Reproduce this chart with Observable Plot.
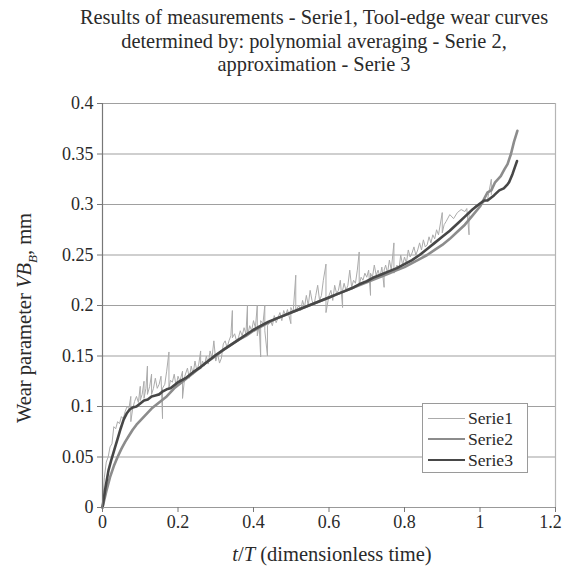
<!DOCTYPE html>
<html><head><meta charset="utf-8">
<script src="https://cdn.jsdelivr.net/npm/d3@7"></script>
<script src="https://cdn.jsdelivr.net/npm/@observablehq/plot@0.6"></script>
<style>
body{margin:0;background:#fff;}
#wrap{position:relative;width:564px;height:568px;overflow:hidden;font-family:"Liberation Serif","DejaVu Serif",serif;color:#2a2a2a}
.tl{position:absolute;left:0;width:628px;text-align:center;font-size:20.4px;line-height:24px;white-space:nowrap}
#ylab{position:absolute;left:27px;top:318px;transform:translate(-50%,-50%) rotate(-90deg);font-size:20.5px;white-space:nowrap}
#xlab{position:absolute;left:332px;top:554px;transform:translate(-50%,-50%);font-size:20.5px;white-space:nowrap}
#legend{position:absolute;left:422px;top:403px;width:106px;height:70px;border:1px solid #9a9a9a;background:#fff;box-sizing:border-box}
.lr{position:absolute;left:5px;height:20px;display:flex;align-items:center;font-size:17.6px}
.lr span.sw{display:inline-block;width:37px;margin-right:3px}
#plot{position:absolute;left:0;top:0}
</style></head><body><div id="wrap"><div id="plot"></div></div>
<script>
const titleLines = ["Results of measurements - Serie1, Tool-edge wear curves","determined by: polynomial averaging - Serie 2,","approximation - Serie 3"];
const seriesNames = ["Serie1","Serie2","Serie3"];
const xTicks = [0,0.2,0.4,0.6,0.8,1,1.2];
const xTickLabels = ["0","0.2","0.4","0.6","0.8","1","1.2"];
const yTicks = [0,0.05,0.1,0.15,0.2,0.25,0.3,0.35,0.4];
const yTickLabels = ["0","0.05","0.1","0.15","0.2","0.25","0.3","0.35","0.4"];

// Serie1: measured values (t/T, VB_B)
const serie1T = [0,0.005,0.01,0.015,0.02,0.025,0.03,0.035,0.04,0.045,0.05,0.055,0.06,0.065,0.07,0.075,0.075,0.08,0.085,0.09,0.095,0.1,0.1,0.105,0.11,0.11,0.115,0.119,0.119,0.125,0.13,0.13,0.135,0.14,0.145,0.15,0.155,0.159,0.159,0.165,0.17,0.176,0.176,0.18,0.185,0.19,0.195,0.2,0.205,0.212,0.212,0.218,0.225,0.23,0.235,0.24,0.245,0.25,0.255,0.26,0.26,0.265,0.27,0.275,0.28,0.285,0.29,0.295,0.3,0.305,0.31,0.315,0.32,0.325,0.33,0.335,0.34,0.344,0.344,0.35,0.355,0.36,0.365,0.37,0.375,0.38,0.384,0.384,0.39,0.395,0.4,0.405,0.41,0.41,0.415,0.419,0.419,0.425,0.43,0.43,0.437,0.437,0.445,0.45,0.455,0.46,0.465,0.47,0.475,0.48,0.485,0.49,0.499,0.499,0.505,0.512,0.512,0.52,0.525,0.53,0.535,0.54,0.545,0.55,0.555,0.56,0.565,0.57,0.575,0.58,0.585,0.592,0.592,0.6,0.605,0.61,0.615,0.62,0.625,0.63,0.636,0.636,0.64,0.645,0.65,0.655,0.66,0.665,0.67,0.675,0.68,0.68,0.685,0.69,0.695,0.7,0.705,0.71,0.71,0.715,0.72,0.725,0.73,0.735,0.74,0.746,0.746,0.75,0.755,0.76,0.765,0.772,0.772,0.78,0.785,0.79,0.795,0.8,0.805,0.81,0.815,0.82,0.825,0.83,0.835,0.84,0.845,0.85,0.855,0.86,0.865,0.87,0.875,0.88,0.885,0.89,0.9,0.9,0.905,0.91,0.92,0.93,0.94,0.95,0.96,0.965,0.971,0.971,0.98,0.99,1.0,1.01,1.02,1.03,1.03];
const serie1V = [0,0.03,0.045,0.05,0.06,0.063,0.08,0.078,0.085,0.083,0.09,0.088,0.095,0.1,0.098,0.11,0.085,0.098,0.105,0.11,0.104,0.12,0.106,0.112,0.125,0.108,0.118,0.14,0.112,0.12,0.132,0.112,0.118,0.128,0.118,0.122,0.13,0.088,0.118,0.122,0.135,0.154,0.118,0.126,0.124,0.132,0.12,0.13,0.125,0.135,0.108,0.13,0.138,0.128,0.14,0.132,0.145,0.135,0.142,0.155,0.137,0.145,0.14,0.15,0.142,0.155,0.148,0.165,0.145,0.152,0.143,0.148,0.162,0.165,0.158,0.165,0.17,0.195,0.168,0.172,0.165,0.168,0.175,0.17,0.178,0.172,0.2,0.17,0.18,0.175,0.185,0.178,0.2,0.17,0.18,0.149,0.185,0.182,0.2,0.175,0.15,0.18,0.185,0.18,0.19,0.183,0.188,0.193,0.185,0.195,0.19,0.196,0.182,0.198,0.193,0.23,0.195,0.2,0.195,0.205,0.198,0.21,0.2,0.215,0.205,0.2,0.21,0.22,0.205,0.21,0.225,0.241,0.193,0.21,0.215,0.205,0.22,0.212,0.215,0.225,0.198,0.215,0.222,0.215,0.22,0.235,0.218,0.225,0.222,0.235,0.253,0.22,0.228,0.225,0.232,0.228,0.235,0.21,0.232,0.228,0.24,0.23,0.235,0.228,0.238,0.218,0.235,0.24,0.232,0.245,0.235,0.262,0.232,0.24,0.235,0.25,0.24,0.248,0.242,0.255,0.248,0.252,0.258,0.25,0.255,0.262,0.255,0.265,0.258,0.26,0.268,0.262,0.27,0.266,0.275,0.27,0.292,0.272,0.28,0.283,0.29,0.286,0.292,0.295,0.293,0.296,0.27,0.29,0.295,0.3,0.298,0.302,0.305,0.325,0.31];

// Serie2: polynomial averaging
const serie2T = [0,0.01,0.02,0.03,0.04,0.05,0.06,0.07,0.08,0.09,0.1,0.11,0.12,0.13,0.14,0.15,0.16,0.17,0.18,0.19,0.2,0.22,0.24,0.26,0.28,0.3,0.32,0.34,0.36,0.38,0.4,0.42,0.44,0.46,0.48,0.5,0.52,0.54,0.56,0.58,0.6,0.62,0.64,0.66,0.68,0.7,0.72,0.74,0.76,0.78,0.8,0.82,0.84,0.86,0.88,0.9,0.92,0.94,0.96,0.98,1.0,1.02,1.03,1.04,1.055,1.065,1.073,1.082,1.09,1.099];
const serie2V = [0,0.016,0.03,0.041,0.05,0.058,0.065,0.071,0.077,0.082,0.086,0.09,0.094,0.098,0.101,0.104,0.107,0.11,0.114,0.118,0.121,0.127,0.133,0.139,0.145,0.15,0.156,0.161,0.166,0.17,0.175,0.179,0.183,0.187,0.19,0.193,0.196,0.199,0.202,0.205,0.208,0.211,0.214,0.217,0.22,0.223,0.226,0.229,0.232,0.235,0.238,0.242,0.246,0.25,0.255,0.26,0.266,0.273,0.28,0.289,0.298,0.312,0.314,0.322,0.328,0.335,0.34,0.35,0.362,0.373];

// Serie3: approximation
const serie3T = [0,0.008,0.016,0.024,0.032,0.04,0.048,0.056,0.064,0.072,0.08,0.09,0.1,0.11,0.12,0.13,0.14,0.15,0.16,0.17,0.18,0.19,0.2,0.22,0.24,0.26,0.28,0.3,0.32,0.34,0.36,0.38,0.4,0.42,0.44,0.46,0.48,0.5,0.52,0.54,0.56,0.58,0.6,0.62,0.64,0.66,0.68,0.7,0.72,0.74,0.76,0.78,0.8,0.82,0.84,0.86,0.88,0.9,0.92,0.94,0.96,0.98,1.0,1.011,1.02,1.037,1.051,1.063,1.073,1.077,1.086,1.098];
const serie3V = [0,0.02,0.037,0.048,0.058,0.068,0.078,0.087,0.093,0.097,0.099,0.1,0.103,0.106,0.107,0.11,0.111,0.112,0.115,0.117,0.118,0.121,0.124,0.128,0.134,0.139,0.145,0.151,0.156,0.161,0.166,0.171,0.176,0.18,0.184,0.187,0.19,0.193,0.196,0.199,0.202,0.205,0.208,0.211,0.214,0.217,0.221,0.224,0.228,0.231,0.234,0.237,0.241,0.245,0.25,0.256,0.262,0.268,0.274,0.281,0.288,0.295,0.301,0.304,0.304,0.309,0.314,0.316,0.32,0.322,0.33,0.343];

const seriesStyle = [
  {stroke:"#ababab", strokeWidth:1},
  {stroke:"#8c8c8c", strokeWidth:2.6},
  {stroke:"#474747", strokeWidth:2.6}
];
const toRows = (T,V) => T.map((t,i)=>({t, v:V[i]}));
const rows = [toRows(serie1T,serie1V), toRows(serie2T,serie2V), toRows(serie3T,serie3V)];
const lastX = xTicks.length - 1;

const chart = Plot.plot({
  width:564, height:568,
  marginTop:103, marginBottom:61, marginLeft:102, marginRight:9,
  x:{domain:[0,1.2]},
  y:{domain:[0,0.4]},
  style:{fontFamily:"'Liberation Serif','DejaVu Serif',serif", fontSize:"18px", color:"#2a2a2a", background:"#fff"},
  marks:[
    Plot.ruleY(yTicks.slice(1), {stroke:"#a0a0a0", strokeWidth:1.2}),
    Plot.ruleX([1.2], {stroke:"#b5b5b5", strokeWidth:1.2}),
    ...rows.map((r,i)=>Plot.line(r, {x:"t", y:"v", ...seriesStyle[i], strokeLinejoin:"round", strokeLinecap:"round"})),
    Plot.ruleX([0], {stroke:"#777", strokeWidth:1.2}),
    Plot.ruleY([0], {stroke:"#999", strokeWidth:1.2}),
    Plot.axisY({ticks:yTicks, tickFormat:(d,i)=>yTickLabels[i], tickSize:5, tickPadding:4, stroke:"#777", fill:"#2a2a2a", label:null}),
    Plot.axisX({ticks:xTicks, tickFormat:(d,i)=>i===lastX?"":xTickLabels[i], tickSize:5, tickPadding:3, stroke:"#777", fill:"#2a2a2a", label:null}),
    Plot.text([xTicks[lastX]], {x:d=>d, text:()=>xTickLabels[lastX], frameAnchor:"bottom", lineAnchor:"top", dy:8, dx:-5, fill:"#2a2a2a"})
  ]
});
const wrap = document.getElementById("wrap");
document.getElementById("plot").appendChild(chart);

const titleTops = [5,29,52];
titleLines.forEach((s,i)=>{
  const d=document.createElement("div"); d.className="tl"; d.style.top=titleTops[i]+"px"; d.textContent=s; wrap.appendChild(d);
});
const yl=document.createElement("div"); yl.id="ylab";
yl.innerHTML='Wear parameter <i>VB</i><sub style="font-size:13px"><i>B</i></sub>, mm';
wrap.appendChild(yl);
const xl=document.createElement("div"); xl.id="xlab";
xl.innerHTML='<i>t</i>/<i>T</i> (dimensionless time)';
wrap.appendChild(xl);
const lg=document.createElement("div"); lg.id="legend";
seriesNames.forEach((n,i)=>{
  const r=document.createElement("div"); r.className="lr"; r.style.top=(4+i*21)+"px";
  r.innerHTML=`<span class="sw" style="border-top:${seriesStyle[i].strokeWidth}px solid ${seriesStyle[i].stroke}"></span>${n}`;
  lg.appendChild(r);
});
wrap.appendChild(lg);
</script></body></html>
